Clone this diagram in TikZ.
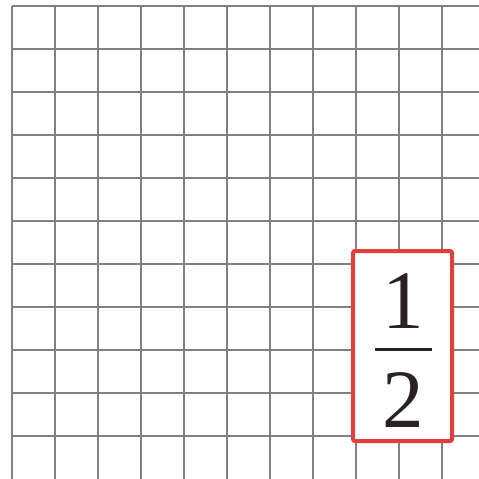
\documentclass[tikz,border=0pt]{standalone}
\usepackage{fontspec}
\setmainfont{Liberation Serif}
\definecolor{gridgray}{HTML}{808080}
\definecolor{boxred}{HTML}{E0403A}
\definecolor{inkdark}{HTML}{2A2222}
\begin{document}
\begin{tikzpicture}[x=1pt,y=-1pt,
  gridline/.style={draw=gridgray,line width=2pt},
  redbox/.style={draw=boxred,fill=white,line width=4pt,rounded corners=2pt},
  digit/.style={inner sep=0pt,anchor=base,text=inkdark,font=\fontsize{83}{83}\selectfont}]
\useasboundingbox (0,0) rectangle (479,479);
\foreach \k in {0,...,10} {
  \draw[gridline] ({12+43*\k},6) -- ({12+43*\k},479);
  \draw[gridline] (12,{6+43*\k}) -- (479,{6+43*\k});
}
\node[redbox,minimum width=99pt,minimum height=190pt,inner sep=0pt] (box) at (402.5,346) {};
\node[digit] (num) at (403,328) {1};
\node[digit] (den) at (403,427) {2};
\draw[inkdark,line width=3pt] (375,349) -- (432,349);
\end{tikzpicture}
\end{document}
